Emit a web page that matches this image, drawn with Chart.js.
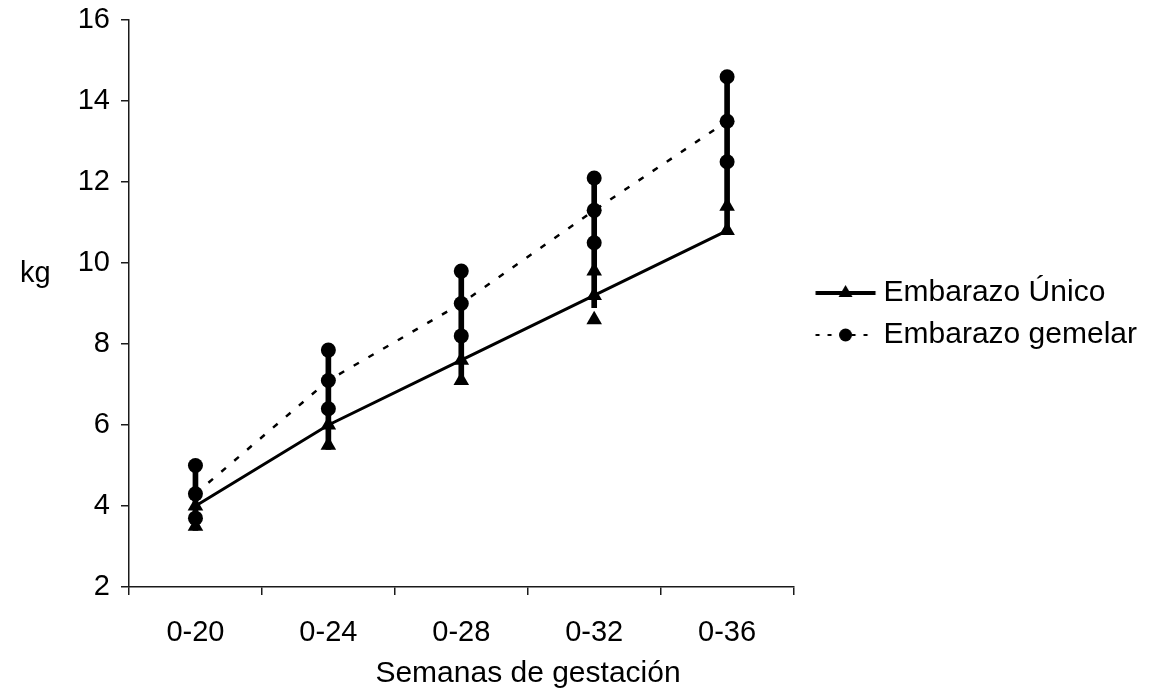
<!DOCTYPE html>
<html><head><meta charset="utf-8">
<script src="https://cdn.jsdelivr.net/npm/chart.js@4"></script>
<style>
html,body{margin:0;padding:0;background:#fff;}
#wrap{position:relative;width:1162px;height:693px;}
.t{position:absolute;font-family:"Liberation Sans",Arial,sans-serif;color:#000;white-space:nowrap;line-height:1;}
#ytitle{left:20px;top:258px;font-size:29px;}
#xtitle{left:528px;top:657px;font-size:30px;transform:translateX(-50%);}
</style></head><body>
<div id="wrap"><canvas id="c" width="1162" height="693"></canvas>
<div class="t" id="ytitle">kg</div><div class="t" id="xtitle">Semanas de gestación</div></div>
<script>
const categories = ['0-20', '0-24', '0-28', '0-32', '0-36'];
const yTicks = [2, 4, 6, 8, 10, 12, 14, 16];
const seriesNames = ['Embarazo Único', 'Embarazo gemelar'];
const unicoMid = [4.0, 6.0, 7.6, 9.2, 10.8];
const unicoHigh = [null, null, null, 9.8, 11.4];
const unicoLow = [3.5, 5.5, 7.1, 8.6, null];
const gemelarMid = [4.3, 7.1, 9.0, 11.3, 13.5];
const gemelarHigh = [5.0, 7.85, 9.8, 12.1, 14.6];
const gemelarLow = [3.7, 6.4, 8.2, 10.5, 12.5];
const rangeLow = [3.4, 5.4, 7.0, 8.9, 10.9];
const rangeHigh = [5.0, 7.9, 9.9, 12.2, 14.7];

const black = '#000';
const axisColor = '#1a1a1a';
const FONT = '"Liberation Sans", Arial, sans-serif';
Chart.defaults.font.family = FONT;
Chart.defaults.color = '#000';

function legendImg(dashed) {
  const c = document.createElement('canvas');
  c.width = 100; c.height = 24;
  const g = c.getContext('2d');
  g.strokeStyle = black; g.fillStyle = black;
  g.lineWidth = dashed ? 2 : 4;
  if (dashed) g.setLineDash([4, 8]);
  g.beginPath(); g.moveTo(28.5, 12); g.lineTo(88.5, 12); g.stroke();
  g.setLineDash([]);
  g.beginPath();
  if (dashed) {
    g.arc(58.5, 12, 6.5, 0, Math.PI * 2);
  } else {
    g.moveTo(58.5, 4); g.lineTo(65.5, 16); g.lineTo(51.5, 16); g.closePath();
  }
  g.fill();
  return c;
}
const legendImgs = [legendImg(false), legendImg(true)];

function markerSet(label, data, style, r) {
  return {type: 'line', label, data, showLine: false, pointStyle: style, pointRadius: r,
    pointBackgroundColor: black, pointBorderColor: black, pointBorderWidth: 0, order: 2};
}

new Chart(document.getElementById('c'), {
  type: 'bar',
  data: {
    labels: categories,
    datasets: [
      {type: 'line', label: seriesNames[0], data: unicoMid, borderColor: black, borderWidth: 3,
        tension: 0, pointStyle: 'triangle', pointRadius: 9, pointBackgroundColor: black,
        pointBorderColor: black, pointBorderWidth: 0, order: 1},
      {type: 'line', label: seriesNames[1], data: gemelarMid, borderColor: black, borderWidth: 2.5,
        borderDash: [6, 11], tension: 0, pointStyle: 'circle', pointRadius: 7.5, pointBackgroundColor: black,
        pointBorderColor: black, pointBorderWidth: 0, order: 1},
      markerSet('u_high', unicoHigh, 'triangle', 9),
      markerSet('u_low', unicoLow, 'triangle', 9),
      markerSet('g_high', gemelarHigh, 'circle', 7.5),
      markerSet('g_low', gemelarLow, 'circle', 7.5),
      {type: 'bar', label: 'range', data: categories.map((c, i) => [rangeLow[i], rangeHigh[i]]),
        backgroundColor: black, borderWidth: 0, barThickness: 5, order: 3}
    ]
  },
  options: {
    responsive: false,
    animation: false,
    events: [],
    layout: {padding: {top: 20, right: 15, left: 0, bottom: 0}},
    plugins: {
      tooltip: {enabled: false},
      legend: {
        position: 'right', align: 'start', maxWidth: 420,
        title: {display: true, text: ' ', font: {size: 10}, padding: {top: 234, bottom: 0}},
        labels: {
          usePointStyle: true, pointStyleWidth: 63, padding: 12,
          font: {size: 30, family: FONT}, color: '#000',
          generateLabels: () => seriesNames.map((n, i) => ({
            text: n, pointStyle: legendImgs[i], datasetIndex: i, hidden: false,
            fillStyle: black, strokeStyle: black, lineWidth: 0, fontColor: '#000'
          }))
        }
      }
    },
    scales: {
      x: {
        offset: true,
        grid: {offset: true, drawOnChartArea: false, drawTicks: true, tickLength: 8, color: axisColor, lineWidth: 1.5},
        border: {display: true, color: axisColor, width: 1.5},
        ticks: {font: {size: 29}, color: '#000', padding: 21, maxRotation: 0, autoSkip: false},
        afterFit(s) { s.height = 106; s.paddingLeft = 0; s.paddingRight = 0; }
      },
      y: {
        min: 2, max: 16,
        afterBuildTicks(s) { s.ticks = yTicks.map(v => ({value: v})); },
        grid: {drawOnChartArea: false, drawTicks: true, tickLength: 8, color: axisColor, lineWidth: 1.5},
        border: {display: true, color: axisColor, width: 1.5},
        ticks: {font: {size: 29}, color: '#000', padding: 11},
        afterFit(s) { s.width = 129; s.paddingTop = 0; s.paddingBottom = 0; }
      }
    }
  }
});
</script>
</body></html>
